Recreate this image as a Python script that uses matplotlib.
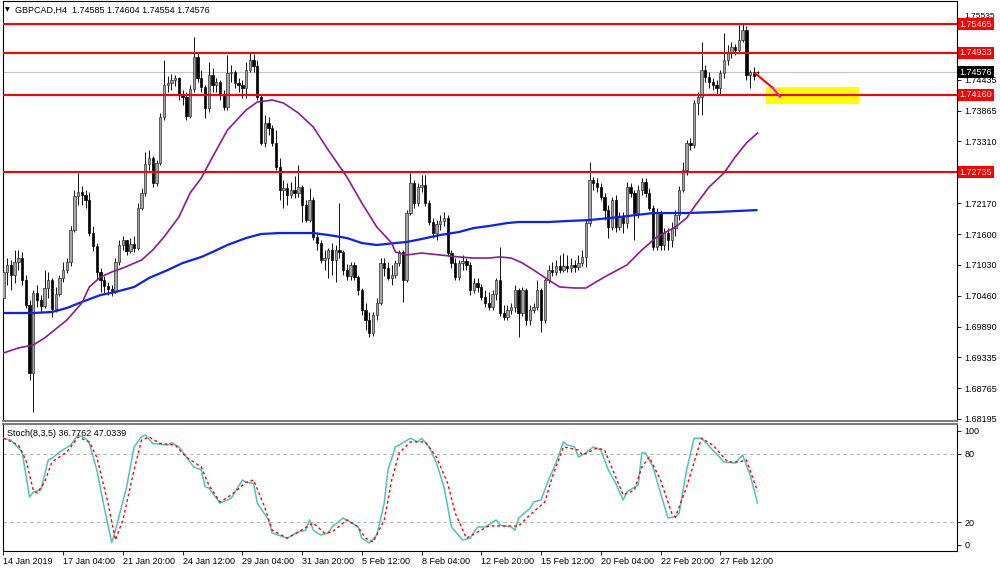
import matplotlib
matplotlib.use('Agg')
import matplotlib.pyplot as plt
import matplotlib.transforms as mtransforms
from matplotlib.patches import Rectangle
import numpy as np

plt.rcParams['font.family'] = ['Liberation Sans', 'DejaVu Sans']

# ---------------- data ----------------
symbol_title = "GBPCAD,H4  1.74585 1.74604 1.74554 1.74576"
stoch_title = "Stoch(8,3,5) 36.7762 47.0339"

date_label_bars = [0, 16, 32, 48, 64, 80, 96, 112, 128, 144, 160, 176, 192]
date_labels = ["14 Jan 2019", "17 Jan 04:00", "21 Jan 20:00", "24 Jan 12:00",
               "29 Jan 04:00", "31 Jan 20:00", "5 Feb 12:00", "8 Feb 04:00",
               "12 Feb 20:00", "15 Feb 12:00", "20 Feb 04:00", "22 Feb 20:00",
               "27 Feb 12:00"]

opens = [1.70422, 1.70901, 1.71029, 1.70845, 1.71085, 1.71159, 1.70753, 1.70293, 1.69042, 1.70514,
         1.70385, 1.70275, 1.70606, 1.70753, 1.70220, 1.70496, 1.70790, 1.70937, 1.71085, 1.71674,
         1.72299, 1.72373, 1.72318, 1.72226, 1.71618, 1.71379, 1.70901, 1.70753, 1.70643, 1.70588,
         1.70551, 1.71085, 1.71398, 1.71490, 1.71288, 1.71416, 1.71343, 1.72079, 1.72355, 1.72889,
         1.72999, 1.72539, 1.72907, 1.73754, 1.74342, 1.74379, 1.74435, 1.74471, 1.74159, 1.74122,
         1.73772, 1.74269, 1.74858, 1.74471, 1.74306, 1.73919, 1.74527, 1.74342, 1.74398, 1.74159,
         1.73938, 1.74563, 1.74582, 1.74379, 1.74342, 1.74287, 1.74619, 1.74803, 1.74692, 1.74122,
         1.73275, 1.73643, 1.73551, 1.73275, 1.72833, 1.72410, 1.72446, 1.72318, 1.72410, 1.72355,
         1.72465, 1.72134, 1.71858, 1.72226, 1.71545, 1.71434, 1.71121, 1.71159, 1.71306, 1.71121,
         1.71306, 1.71269, 1.70937, 1.70827, 1.71029, 1.70809, 1.70569, 1.70201, 1.70017, 1.69777,
         1.70109, 1.70330, 1.71066, 1.70974, 1.70790, 1.70845, 1.71066, 1.71269, 1.70753, 1.71987,
         1.72539, 1.72171, 1.72465, 1.72502, 1.72171, 1.71821, 1.71618, 1.71784, 1.71839, 1.71895,
         1.71251, 1.71066, 1.70809, 1.71066, 1.71103, 1.71029, 1.70569, 1.70698, 1.70624, 1.70441,
         1.70330, 1.70256, 1.70496, 1.70753, 1.70146, 1.70072, 1.70201, 1.70256, 1.70569, 1.70146,
         1.70569, 1.70017, 1.70201, 1.70256, 1.70569, 1.70017, 1.70753, 1.70937, 1.70901, 1.71011,
         1.70937, 1.71011, 1.70974, 1.71029, 1.70992, 1.71066, 1.71177, 1.71802, 1.72594, 1.72539,
         1.72465, 1.72281, 1.72042, 1.71729, 1.72226, 1.71729, 1.71913, 1.71802, 1.72465, 1.72355,
         1.71987, 1.72410, 1.72557, 1.72355, 1.72079, 1.71361, 1.72005, 1.71398, 1.71618, 1.71490,
         1.71710, 1.71950, 1.72410, 1.72777, 1.73275, 1.73238, 1.74011, 1.74122, 1.74619, 1.74490,
         1.74398, 1.74342, 1.74287, 1.74563, 1.74803, 1.74931, 1.75042, 1.74987, 1.75171, 1.75355,
         1.74527, 1.74582, 1.74585]

highs = [1.71029, 1.71159, 1.71121, 1.71306, 1.71306, 1.71269, 1.70845, 1.70385, 1.70569, 1.70661,
         1.70477, 1.70937, 1.70901, 1.70790, 1.70624, 1.70845, 1.71085, 1.71159, 1.71747, 1.72410,
         1.72722, 1.72483, 1.72410, 1.72373, 1.71747, 1.71434, 1.70974, 1.70827, 1.70717, 1.70661,
         1.71159, 1.71490, 1.71563, 1.71490, 1.71526, 1.71563, 1.72171, 1.72446, 1.73109, 1.73146,
         1.73036, 1.72962, 1.73827, 1.74803, 1.74508, 1.74545, 1.74527, 1.74490, 1.74250, 1.74214,
         1.74342, 1.75226, 1.74950, 1.74619, 1.74342, 1.74766, 1.74655, 1.74471, 1.74435, 1.74250,
         1.74895, 1.74711, 1.74619, 1.74471, 1.74435, 1.74766, 1.74931, 1.74913, 1.74803, 1.74159,
         1.73790, 1.73754, 1.73606, 1.73514, 1.72999, 1.72594, 1.72539, 1.72557, 1.72667, 1.72870,
         1.72502, 1.72226, 1.72446, 1.72281, 1.71618, 1.71490, 1.71306, 1.71343, 1.71434, 1.71398,
         1.72171, 1.71306, 1.71048, 1.71085, 1.71085, 1.70845, 1.70606, 1.70330, 1.70164, 1.70164,
         1.70422, 1.71159, 1.71159, 1.71085, 1.71029, 1.71121, 1.71306, 1.71306, 1.72042, 1.72722,
         1.72594, 1.72539, 1.72686, 1.72686, 1.72226, 1.71895, 1.71858, 1.71950, 1.72005, 1.71950,
         1.71306, 1.71159, 1.71121, 1.71214, 1.71159, 1.71085, 1.70790, 1.70790, 1.70680, 1.70569,
         1.70532, 1.70569, 1.70790, 1.71361, 1.70293, 1.70293, 1.70330, 1.70661, 1.70606, 1.70624,
         1.70606, 1.70293, 1.70330, 1.70753, 1.70606, 1.70790, 1.71029, 1.71085, 1.71121, 1.71214,
         1.71251, 1.71214, 1.71159, 1.71121, 1.71214, 1.71306, 1.71858, 1.72925, 1.72649, 1.72630,
         1.72539, 1.72355, 1.72134, 1.72281, 1.72318, 1.72005, 1.72005, 1.72557, 1.72539, 1.72410,
         1.72502, 1.72630, 1.72630, 1.72446, 1.72134, 1.72079, 1.72042, 1.71710, 1.71710, 1.71821,
         1.72042, 1.72483, 1.72925, 1.73330, 1.73367, 1.74066, 1.74214, 1.75134, 1.74711, 1.74582,
         1.74471, 1.74435, 1.74619, 1.75300, 1.75079, 1.75134, 1.75097, 1.75447, 1.75465, 1.75428,
         1.74619, 1.74674, 1.74604]

lows = [1.70348, 1.70661, 1.70569, 1.70698, 1.70937, 1.70661, 1.70238, 1.68913, 1.68324, 1.70256,
        1.70164, 1.70238, 1.70422, 1.70072, 1.70164, 1.70459, 1.70717, 1.70882, 1.71011, 1.71637,
        1.72134, 1.72134, 1.72079, 1.71563, 1.71288, 1.70753, 1.70532, 1.70514, 1.70477, 1.70459,
        1.70514, 1.71029, 1.71306, 1.71214, 1.71251, 1.71269, 1.71306, 1.72042, 1.72299, 1.72777,
        1.72465, 1.72483, 1.72870, 1.73698, 1.74214, 1.74250, 1.74324, 1.74066, 1.73974, 1.73698,
        1.73735, 1.74214, 1.74398, 1.74214, 1.73735, 1.73846, 1.74214, 1.74214, 1.74066, 1.73882,
        1.73882, 1.74398, 1.74287, 1.74214, 1.74103, 1.74103, 1.74582, 1.74582, 1.74066, 1.73238,
        1.73201, 1.73422, 1.73220, 1.72777, 1.72226, 1.72079, 1.72134, 1.72263, 1.72263, 1.72281,
        1.71821, 1.71821, 1.71821, 1.71490, 1.71306, 1.71066, 1.70937, 1.70790, 1.70845, 1.70717,
        1.71159, 1.70845, 1.70753, 1.70753, 1.70753, 1.70477, 1.70109, 1.69833, 1.69704, 1.69722,
        1.70017, 1.70293, 1.70827, 1.70753, 1.70661, 1.70790, 1.71011, 1.70348, 1.70717, 1.71950,
        1.72079, 1.72115, 1.72373, 1.72115, 1.71766, 1.71526, 1.71490, 1.71674, 1.71747, 1.71196,
        1.70974, 1.70753, 1.70753, 1.70937, 1.70937, 1.70477, 1.70514, 1.70532, 1.70385, 1.70256,
        1.70201, 1.70201, 1.70385, 1.70091, 1.70017, 1.70017, 1.70128, 1.70164, 1.69704, 1.70091,
        1.69925, 1.69925, 1.70146, 1.70201, 1.69796, 1.69962, 1.70698, 1.70827, 1.70845, 1.70882,
        1.70901, 1.70901, 1.70901, 1.70901, 1.70937, 1.71011, 1.70992, 1.71747, 1.72410, 1.72373,
        1.72226, 1.71858, 1.71526, 1.71674, 1.71637, 1.71674, 1.71618, 1.71710, 1.72281, 1.71490,
        1.71895, 1.72318, 1.72281, 1.72042, 1.71306, 1.71306, 1.71306, 1.71306, 1.71306, 1.71361,
        1.71563, 1.71858, 1.72373, 1.72686, 1.73146, 1.73183, 1.73790, 1.73790, 1.74398, 1.74287,
        1.74250, 1.74159, 1.74159, 1.74471, 1.74711, 1.74839, 1.74895, 1.74950, 1.75134, 1.74435,
        1.74287, 1.74435, 1.74554]

closes = [1.70901, 1.71029, 1.70845, 1.71085, 1.71159, 1.70753, 1.70293, 1.69042, 1.70514, 1.70385,
          1.70275, 1.70606, 1.70753, 1.70220, 1.70496, 1.70790, 1.70937, 1.71085, 1.71674, 1.72299,
          1.72373, 1.72318, 1.72226, 1.71618, 1.71379, 1.70901, 1.70753, 1.70643, 1.70588, 1.70551,
          1.71085, 1.71398, 1.71490, 1.71288, 1.71416, 1.71343, 1.72079, 1.72355, 1.72889, 1.72999,
          1.72539, 1.72907, 1.73754, 1.74342, 1.74379, 1.74435, 1.74471, 1.74159, 1.74122, 1.73772,
          1.74269, 1.74858, 1.74471, 1.74306, 1.73919, 1.74527, 1.74342, 1.74398, 1.74159, 1.73938,
          1.74563, 1.74582, 1.74379, 1.74342, 1.74287, 1.74619, 1.74803, 1.74692, 1.74122, 1.73275,
          1.73643, 1.73551, 1.73275, 1.72833, 1.72410, 1.72446, 1.72318, 1.72410, 1.72355, 1.72465,
          1.72134, 1.71858, 1.72226, 1.71545, 1.71434, 1.71121, 1.71159, 1.71306, 1.71121, 1.71306,
          1.71269, 1.70937, 1.70827, 1.71029, 1.70809, 1.70569, 1.70201, 1.70017, 1.69777, 1.70109,
          1.70330, 1.71066, 1.70974, 1.70790, 1.70845, 1.71066, 1.71269, 1.70753, 1.71987, 1.72539,
          1.72171, 1.72465, 1.72502, 1.72171, 1.71821, 1.71618, 1.71784, 1.71839, 1.71895, 1.71251,
          1.71066, 1.70809, 1.71066, 1.71103, 1.71029, 1.70569, 1.70698, 1.70624, 1.70441, 1.70330,
          1.70256, 1.70496, 1.70753, 1.70146, 1.70072, 1.70201, 1.70256, 1.70569, 1.70146, 1.70569,
          1.70017, 1.70201, 1.70256, 1.70569, 1.70017, 1.70753, 1.70937, 1.70901, 1.71011, 1.70937,
          1.71011, 1.70974, 1.71029, 1.70992, 1.71066, 1.71177, 1.71802, 1.72594, 1.72539, 1.72465,
          1.72281, 1.72042, 1.71729, 1.72226, 1.71729, 1.71913, 1.71802, 1.72465, 1.72355, 1.71987,
          1.72410, 1.72557, 1.72355, 1.72079, 1.71361, 1.72005, 1.71398, 1.71618, 1.71490, 1.71710,
          1.71950, 1.72410, 1.72777, 1.73275, 1.73238, 1.74011, 1.74122, 1.74619, 1.74490, 1.74398,
          1.74342, 1.74287, 1.74563, 1.74803, 1.74931, 1.75042, 1.74987, 1.75171, 1.75355, 1.74527,
          1.74582, 1.74508, 1.74576]

# moving averages
ma_purple_bars = [0, 4, 8, 11, 13, 17, 21, 23, 26, 29, 32, 37, 40, 43, 47, 50, 53, 56, 60, 65,
                  68, 72, 75, 79, 83, 87, 92, 96, 100, 104, 105, 108, 112, 117, 122, 126, 130, 133, 136, 139,
                  142, 146, 149, 153, 156, 161, 167, 171, 175, 180, 183, 185, 189, 193, 196, 199, 202]
ma_purple = [1.69410, 1.69502, 1.69557, 1.69686, 1.69796, 1.70017, 1.70330, 1.70625, 1.70809, 1.70901,
             1.70974, 1.71121, 1.71306, 1.71545, 1.71913, 1.72355, 1.72631, 1.73017, 1.73514, 1.73882,
             1.74030, 1.74066, 1.74011, 1.73827, 1.73569, 1.73146, 1.72649, 1.72171, 1.71729, 1.71434,
             1.71269, 1.71214, 1.71250, 1.71214, 1.71177, 1.71158, 1.71158, 1.71177, 1.71158, 1.71066,
             1.70937, 1.70753, 1.70625, 1.70606, 1.70606, 1.70809, 1.71030, 1.71306, 1.71545, 1.71729,
             1.71895, 1.72097, 1.72465, 1.72723, 1.73017, 1.73275, 1.73459]

ma_blue_bars = [0, 8, 13, 17, 21, 26, 30, 35, 39, 44, 48, 53, 56, 60, 65, 69, 74, 78, 83, 87,
                92, 96, 100, 105, 108, 112, 117, 122, 126, 130, 135, 138, 142, 146, 151, 157, 165, 174, 183, 191,
                202]
ma_blue = [1.70146, 1.70146, 1.70164, 1.70238, 1.70349, 1.70477, 1.70532, 1.70625, 1.70790, 1.70937,
           1.71066, 1.71177, 1.71269, 1.71398, 1.71526, 1.71600, 1.71618, 1.71618, 1.71618, 1.71582,
           1.71526, 1.71434, 1.71398, 1.71434, 1.71453, 1.71508, 1.71582, 1.71637, 1.71710, 1.71747,
           1.71802, 1.71821, 1.71821, 1.71821, 1.71839, 1.71857, 1.71913, 1.71986, 1.71986, 1.72005,
           1.72041]

# stochastic
stoch_k_bars = [0, 2, 4, 5, 7, 8, 10, 12, 13, 15, 18, 20, 22, 23, 25, 27, 29, 30, 33, 35,
                37, 38, 40, 44, 45, 47, 51, 53, 54, 55, 58, 61, 64, 65, 67, 68, 71, 72, 76, 79,
                81, 82, 83, 85, 87, 88, 91, 93, 95, 96, 98, 100, 102, 103, 105, 106, 109, 111, 112, 114,
                116, 118, 120, 123, 125, 127, 129, 132, 133, 136, 137, 138, 141, 142, 144, 146, 148, 150, 151, 153,
                154, 156, 158, 160, 162, 164, 166, 167, 170, 171, 172, 174, 176, 178, 180, 181, 183, 185, 187, 190,
                193, 196, 198, 200, 202]
stoch_k = [93.6, 92, 85, 81.6, 42, 46.5, 48, 74.6, 76, 81.6, 87.7, 96.5, 93.6, 89, 66, 33, 2, 13, 51, 86,
           95, 96.5, 89, 87.7, 89.7, 86, 68.4, 66, 51, 50, 36.8, 41, 57, 55, 54, 36.8, 22, 10.5, 6, 11.4,
           13, 22, 13, 8.8, 10.5, 15.8, 23.7, 20, 15.8, 6, 1.8, 8.8, 36.8, 66, 86, 87.7, 93.6, 90.4, 93.6, 86,
           71.9, 51, 15.8, 4.4, 6, 15.8, 15.8, 22, 17.5, 15.8, 13, 23.7, 32, 37.7, 39.5, 57, 71.9, 90.4, 87.7, 86,
           77, 80.7, 86, 83.3, 66, 54, 39.5, 46.5, 52.6, 80.7, 80.7, 68.4, 45.6, 23.7, 24.6, 28, 66, 93.6, 93.6, 83.3,
           72.8, 71.9, 78.9, 61.4, 36.7762]

stoch_d_bars = [0, 4, 6, 8, 9, 11, 13, 17, 20, 23, 25, 28, 30, 32, 35, 37, 39, 42, 46, 49,
                53, 55, 58, 61, 65, 67, 70, 72, 76, 79, 83, 86, 88, 92, 95, 97, 99, 102, 104, 106,
                109, 113, 116, 119, 121, 124, 127, 130, 135, 138, 141, 145, 147, 150, 154, 155, 159, 161, 164, 166,
                169, 171, 173, 176, 179, 180, 183, 186, 187, 190, 194, 197, 199, 202]
stoch_d = [93.6, 87.7, 74.6, 48, 45.6, 55, 72.8, 81.6, 94.7, 90.4, 77, 36.8, 4.4, 22, 66, 92, 94.7, 89, 87.7, 77,
           68.4, 52.6, 37.7, 43.9, 55, 57, 33, 13, 6, 11.4, 19.3, 10.5, 11.4, 22, 15.8, 6, 2.6, 22, 57, 80.7,
           90.4, 90.4, 77, 54, 28, 6, 11.4, 16.7, 16.7, 16.7, 26.3, 37.7, 59.6, 86, 83.3, 78.9, 85, 83.3, 59.6, 43.9,
           48, 68.4, 77, 57, 28, 24.6, 51, 83.3, 93.6, 87.7, 72.8, 72.8, 74.6, 47.0339]

levels = [1.75465, 1.74933, 1.74160, 1.72735]
current_price = 1.74576
price_ticks = [1.75535, 1.74435, 1.73865, 1.73310, 1.72170, 1.71600, 1.71030,
               1.70460, 1.69890, 1.69335, 1.68765, 1.68195]
stoch_ticks = [0, 20, 80, 100]
stoch_levels = [20, 80]

zone_bars = [204.3, 229.2]
zone_prices = [1.73993, 1.74306]
path_red_bars = [201.3, 206.1]
path_red_prices = [1.74563, 1.74287]
path_mag_bars = [206.1, 208.0]
path_mag_prices = [1.74287, 1.74127]

# ---------------- figure ----------------
fig = plt.figure(figsize=(10, 5.71), dpi=100)
fig.patch.set_facecolor('white')
ax = fig.add_axes([0.0027, 0.2627, 0.9546, 0.73555])
ax2 = fig.add_axes([0.0027, 0.03503, 0.9546, 0.22241])

XMIN, XMAX = -0.2, 255.5
ax.set_xlim(XMIN, XMAX)
ax.set_ylim(1.68158, 1.75889)
ax2.set_xlim(XMIN, XMAX)
ax2.set_ylim(-5.26, 106.1)

o = np.array(opens); h = np.array(highs); l = np.array(lows); c = np.array(closes)
x = np.arange(len(o))
up = c >= o
ax.vlines(x, l, h, color='black', lw=0.65, zorder=2)
bot = np.minimum(o, c)
ht = np.maximum(np.abs(c - o), 0.00003)
ax.bar(x[up], ht[up], bottom=bot[up], width=0.62, facecolor='#a4a4a4',
       edgecolor='#303030', linewidth=0.5, zorder=3)
ax.bar(x[~up], ht[~up], bottom=bot[~up], width=0.62, facecolor='black',
       edgecolor='black', linewidth=0.5, zorder=3)

ax.plot(ma_blue_bars, ma_blue, color='#0a1eff', lw=1.6, zorder=4, solid_capstyle='butt')
ax.plot(ma_purple_bars, ma_purple, color='#8b1c8b', lw=1.2, zorder=4)

ax.axhline(current_price, color='#c4c4c4', lw=0.8, zorder=1)
ax.add_patch(Rectangle((zone_bars[0], zone_prices[0]), zone_bars[1] - zone_bars[0],
                       zone_prices[1] - zone_prices[0], facecolor='#ffff00',
                       edgecolor='none', zorder=4))
for lv in levels:
    ax.axhline(lv, color='#ff0000', lw=1.5, zorder=5)
ax.plot(path_red_bars, path_red_prices, color='#ff0000', lw=1.5, zorder=6)
ax.plot(path_mag_bars, path_mag_prices, color='#ff00ff', lw=1.5, zorder=6)

# axes styling
for a in (ax, ax2):
    for s in a.spines.values():
        s.set_color('black')
        s.set_linewidth(0.8)
    a.yaxis.tick_right()
    a.tick_params(axis='y', length=3, width=0.6, pad=2, labelsize=6.5, colors='black')
ax.spines['bottom'].set_color('#7a7a7a'); ax.spines['bottom'].set_linewidth(1.4)
ax2.spines['top'].set_color('#7a7a7a'); ax2.spines['top'].set_linewidth(1.4)

ax.set_xticks([])
ax.set_yticks(price_ticks)
ax.set_yticklabels([f"{t:.5f}" for t in price_ticks])
# top label sits just above its tick so that the red price box does not hide it
ax.get_yticklabels()[0].set_va('bottom')
ax.get_yticklabels()[0].set_fontsize(6)

ax2.set_yticks(stoch_ticks)
ax2.set_yticklabels([str(t) for t in stoch_ticks])
ax2.set_xticks(date_label_bars)
ax2.set_xticklabels(date_labels, ha='left', fontsize=6.5)
ax2.tick_params(axis='x', length=3, width=0.6, pad=1.5, colors='black')

# price boxes on the right
trans = mtransforms.blended_transform_factory(ax.transAxes, ax.transData)
for lv in levels:
    ax.text(1.0025, lv, f"{lv:.5f}", transform=trans, ha='left', va='center', fontsize=6.5,
            color='white', clip_on=False, zorder=10,
            bbox=dict(boxstyle='square,pad=0.18', facecolor='#ff0000', edgecolor='none'))
ax.text(1.0025, current_price, f"{current_price:.5f}", transform=trans, ha='left', va='center',
        fontsize=6.5, color='white', clip_on=False, zorder=10,
        bbox=dict(boxstyle='square,pad=0.18', facecolor='black', edgecolor='none'))

# stochastic
for lv in stoch_levels:
    ax2.axhline(lv, color='#b4b4b4', lw=0.8, linestyle=(0, (3, 3)), zorder=1)
ax2.plot(stoch_k_bars, stoch_k, color='#4cc6bb', lw=1.1, zorder=3)
ax2.plot(stoch_d_bars, stoch_d, color='#ff0000', lw=1.0, linestyle=(0, (2, 2)), zorder=4)

# titles
fig.text(0.005, 1 - 10 / 571, '\u25BC', fontsize=4.5, va='center', ha='left',
         family=['DejaVu Sans'])
fig.text(0.015, 1 - 10 / 571, symbol_title, fontsize=6.5, va='center', ha='left')
fig.text(0.007, 1 - 433 / 571, stoch_title, fontsize=6.5, va='center', ha='left')

fig.savefig('out.png', dpi=100, facecolor='white')
